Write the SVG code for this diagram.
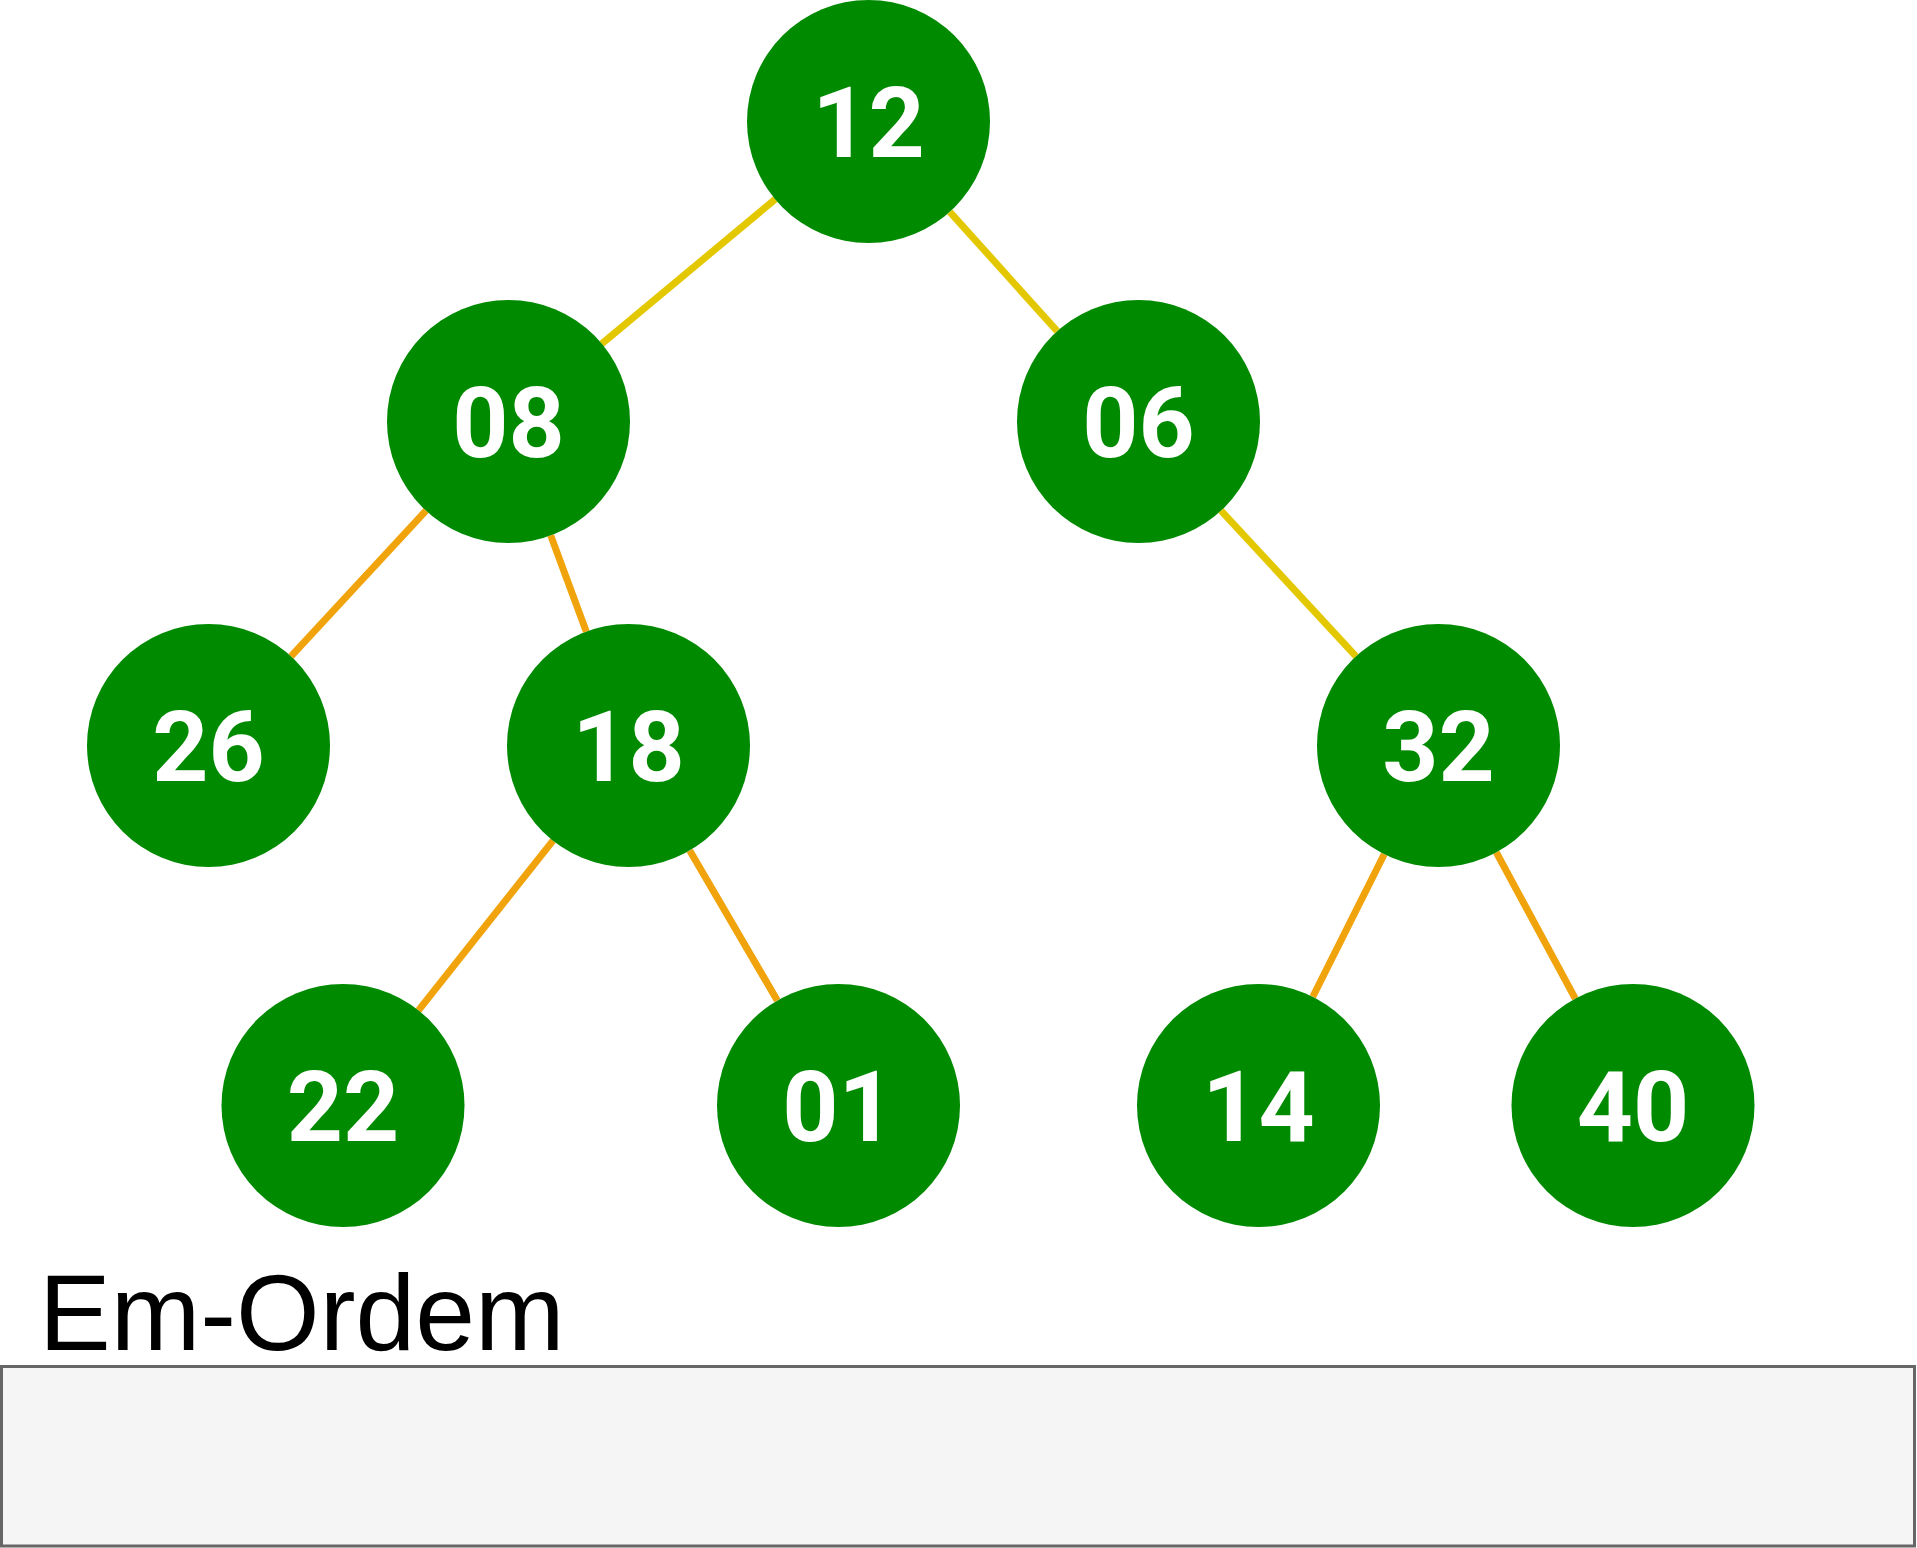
<svg xmlns="http://www.w3.org/2000/svg" width="1917" height="1548" viewBox="0 0 1917 1548">
<style>
.node circle{fill:#008a00}
.node text{fill:#ffffff;font-family:Roboto,"Liberation Sans",Arial,sans-serif;font-weight:700;font-size:98px;text-anchor:middle}
.edge{stroke-width:7;fill:none}
.y{stroke:#e3c800}
.o{stroke:#f0a30a}
.title{font-family:"Liberation Sans",Arimo,Arial,sans-serif;font-size:107.5px;fill:#000000}
</style>
<rect width="1917" height="1548" fill="#ffffff"/>
<g id="connectors">
<line class="edge y" x1="775.2" y1="199.3" x2="601.8" y2="343.7"/>
<line class="edge y" x1="949.8" y1="211.8" x2="1057.2" y2="331.2"/>
<line class="edge o" x1="426.0" y1="510.6" x2="291.0" y2="656.4"/>
<line class="edge o" x1="550.7" y1="535.4" x2="586.3" y2="631.6"/>
<line class="edge y" x1="1221.0" y1="510.6" x2="1356.0" y2="656.4"/>
<line class="edge o" x1="553.0" y1="840.7" x2="418.5" y2="1010.3"/>
<line class="edge o" x1="689.7" y1="850.5" x2="777.3" y2="1000.5"/>
<line class="edge o" x1="1384.2" y1="854.2" x2="1312.8" y2="996.8"/>
<line class="edge o" x1="1496.3" y1="852.4" x2="1575.3" y2="998.6"/>
</g>
<g id="node-12" class="node"><circle cx="868.5" cy="121.5" r="121.5"/><text x="868.5" y="156.5">12</text></g>
<g id="node-08" class="node"><circle cx="508.5" cy="421.5" r="121.5"/><text x="508.5" y="456.5">08</text></g>
<g id="node-06" class="node"><circle cx="1138.5" cy="421.5" r="121.5"/><text x="1138.5" y="456.5">06</text></g>
<g id="node-26" class="node"><circle cx="208.5" cy="745.5" r="121.5"/><text x="208.5" y="780.5">26</text></g>
<g id="node-18" class="node"><circle cx="628.5" cy="745.5" r="121.5"/><text x="628.5" y="780.5">18</text></g>
<g id="node-32" class="node"><circle cx="1438.5" cy="745.5" r="121.5"/><text x="1438.5" y="780.5">32</text></g>
<g id="node-22" class="node"><circle cx="343" cy="1105.5" r="121.5"/><text x="343" y="1140.5">22</text></g>
<g id="node-01" class="node"><circle cx="838.5" cy="1105.5" r="121.5"/><text x="838.5" y="1140.5">01</text></g>
<g id="node-14" class="node"><circle cx="1258.5" cy="1105.5" r="121.5"/><text x="1258.5" y="1140.5">14</text></g>
<g id="node-40" class="node"><circle cx="1633" cy="1105.5" r="121.5"/><text x="1633" y="1140.5">40</text></g>
<g id="label-em-ordem"><text class="title" x="39" y="1350">Em-Ordem</text></g>
<g id="box"><rect x="1.5" y="1366.5" width="1913" height="179.5" fill="#f5f5f5" stroke="#666666" stroke-width="3"/></g>
</svg>
